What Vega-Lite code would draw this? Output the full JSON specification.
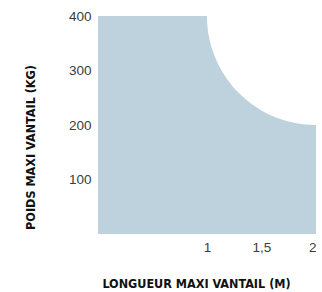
{
  "$schema": "https://vega.github.io/schema/vega-lite/v6.json",
  "width": 218,
  "height": 218,
  "autosize": {"type": "none"},
  "padding": {"left": 98, "top": 16, "right": 6, "bottom": 58},
  "background": "white",
  "config": {"view": {"stroke": null}},
  "data": {
    "values": [
      {"longueur": 0, "poids": 400},
      {"longueur": 1, "poids": 400},
      {"longueur": 1.001, "poids": 391.1},
      {"longueur": 1.005, "poids": 380.0},
      {"longueur": 1.02, "poids": 360.2},
      {"longueur": 1.05, "poids": 337.6},
      {"longueur": 1.1, "poids": 312.8},
      {"longueur": 1.15, "poids": 294.6},
      {"longueur": 1.2, "poids": 280.0},
      {"longueur": 1.3, "poids": 257.2},
      {"longueur": 1.4, "poids": 240.0},
      {"longueur": 1.5, "poids": 226.8},
      {"longueur": 1.6, "poids": 216.7},
      {"longueur": 1.7, "poids": 209.2},
      {"longueur": 1.8, "poids": 204.0},
      {"longueur": 1.9, "poids": 201.0},
      {"longueur": 2, "poids": 200}
    ]
  },
  "mark": {"type": "area", "color": "#bed2dd", "interpolate": "monotone", "opacity": 1},
  "encoding": {
    "x": {
      "field": "longueur",
      "type": "quantitative",
      "scale": {"domain": [0, 2], "nice": false},
      "axis": {
        "title": "LONGUEUR MAXI VANTAIL (M)",
        "values": [1, 1.5, 2],
        "labelExpr": "replace(toString(datum.value), '.', ',')",
        "domain": false,
        "ticks": false,
        "grid": false,
        "labelPadding": 6,
        "labelFont": "Liberation Sans",
        "labelFontSize": 13.5,
        "labelColor": "#3c3c3c",
        "titleFont": "DejaVu Sans Condensed",
        "titleFontWeight": "bold",
        "titleFontSize": 12.5,
        "titleColor": "#111111",
        "titleX": 98,
        "titleY": 49,
        "titleAlign": "center",
        "titleBaseline": "middle"
      }
    },
    "y": {
      "field": "poids",
      "type": "quantitative",
      "scale": {"domain": [0, 400], "nice": false},
      "axis": {
        "title": "POIDS MAXI VANTAIL (KG)",
        "values": [100, 200, 300, 400],
        "domain": false,
        "ticks": false,
        "grid": false,
        "labelPadding": 7,
        "labelFont": "Liberation Sans",
        "labelFontSize": 13.5,
        "labelColor": "#3c3c3c",
        "titleFont": "DejaVu Sans Condensed",
        "titleFontWeight": "bold",
        "titleFontSize": 12.5,
        "titleColor": "#111111",
        "titleX": -68,
        "titleY": 131,
        "titleAngle": -90,
        "titleAlign": "center",
        "titleBaseline": "middle"
      }
    }
  }
}
